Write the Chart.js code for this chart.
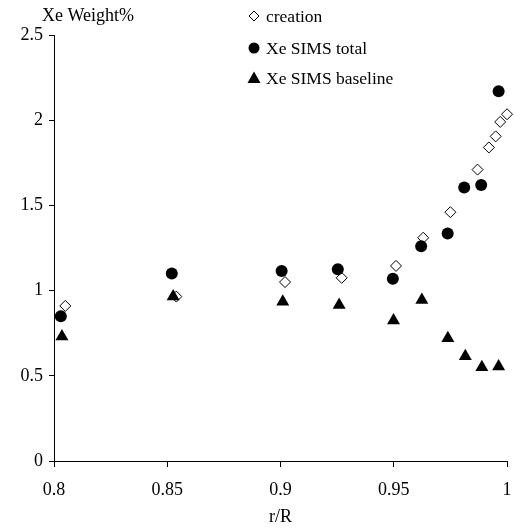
<!DOCTYPE html>
<html>
<head>
<meta charset="utf-8">
<script src="https://cdn.jsdelivr.net/npm/chart.js@4/dist/chart.umd.min.js"></script>
<style>
html,body{margin:0;padding:0;background:#fff;}
#wrap{position:relative;width:515px;height:528px;}
</style>
</head>
<body>
<div id="wrap"><canvas id="c" width="515" height="528"></canvas></div>
<script>
// ---- data ----
const seriesNames = ["creation", "Xe SIMS total", "Xe SIMS baseline"];
const creationX = [0.805, 0.854, 0.902, 0.927, 0.951, 0.963, 0.975, 0.987, 0.992, 0.995, 0.997, 1.000];
const creationY = [0.91, 0.965, 1.05, 1.075, 1.145, 1.31, 1.46, 1.71, 1.84, 1.905, 1.99, 2.035];
const totalX = [0.803, 0.852, 0.9005, 0.9253, 0.9496, 0.9621, 0.9738, 0.9811, 0.9886, 0.9963];
const totalY = [0.85, 1.10, 1.115, 1.125, 1.07, 1.26, 1.335, 1.605, 1.62, 2.17];
const baseX = [0.8035, 0.8526, 0.901, 0.9259, 0.9499, 0.9624, 0.9739, 0.9816, 0.9889, 0.9963];
const baseY = [0.73, 0.965, 0.935, 0.915, 0.825, 0.945, 0.72, 0.615, 0.55, 0.555];
const xTicks = [0.8, 0.85, 0.9, 0.95, 1];
const yTicks = [0, 0.5, 1, 1.5, 2, 2.5];
const xTitle = "r/R";
const yTitle = "Xe Weight%";

const pts = (xs, ys) => xs.map((x, i) => ({x: x, y: ys[i]}));
const FONT = '"Liberation Serif", "Times New Roman", serif';

const legendPlugin = {
  id: 'customLegend',
  afterDraw(chart) {
    const ctx = chart.ctx;
    ctx.save();
    ctx.fillStyle = '#000';
    ctx.textBaseline = 'middle';
    ctx.textAlign = 'left';
    ctx.font = '18px ' + FONT;
    ctx.fillText(yTitle, 42, 16);
    ctx.font = '17.5px ' + FONT;
    const mx = 254, tx = 266;
    const ys = [16, 48, 78];
    ctx.lineWidth = 1;
    ctx.strokeStyle = '#000';
    ctx.fillStyle = '#fff';
    ctx.beginPath();
    ctx.moveTo(mx, ys[0] - 5); ctx.lineTo(mx + 5, ys[0]); ctx.lineTo(mx, ys[0] + 5); ctx.lineTo(mx - 5, ys[0]); ctx.closePath();
    ctx.fill(); ctx.stroke();
    ctx.fillStyle = '#000';
    ctx.beginPath(); ctx.arc(mx, ys[1], 5.5, 0, Math.PI * 2); ctx.fill();
    ctx.beginPath();
    ctx.moveTo(mx, ys[2] - 6.5); ctx.lineTo(mx + 6.5, ys[2] + 5); ctx.lineTo(mx - 6.5, ys[2] + 5); ctx.closePath(); ctx.fill();
    seriesNames.forEach((n, i) => ctx.fillText(n, tx, ys[i] + 1));
    ctx.restore();
  }
};

new Chart(document.getElementById('c'), {
  type: 'scatter',
  data: {
    datasets: [
      {label: seriesNames[0], data: pts(creationX, creationY), pointStyle: 'rectRot', radius: 5.5,
       backgroundColor: '#fff', borderColor: '#000', borderWidth: 1, order: 3, clip: false},
      {label: seriesNames[1], data: pts(totalX, totalY), pointStyle: 'circle', radius: 6,
       backgroundColor: '#000', borderColor: '#000', borderWidth: 0, order: 2, clip: false},
      {label: seriesNames[2], data: pts(baseX, baseY), pointStyle: 'triangle', radius: 7.5,
       backgroundColor: '#000', borderColor: '#000', borderWidth: 0, order: 1, clip: false}
    ]
  },
  options: {
    responsive: false,
    animation: false,
    events: [],
    layout: {padding: {top: 35, right: 8, left: 0, bottom: 0}},
    plugins: {legend: {display: false}, tooltip: {enabled: false}, title: {display: false}},
    scales: {
      x: {
        type: 'linear', min: 0.8, max: 1,
        afterBuildTicks: s => { s.ticks = xTicks.map(v => ({value: v})); },
        afterFit: s => { s.height = 67; s.paddingLeft = 0; s.paddingRight = 0; },
        grid: {display: true, drawOnChartArea: false, drawTicks: true, tickLength: 6, color: '#000', tickColor: '#000'},
        border: {display: true, color: '#000', width: 1},
        ticks: {color: '#000', font: {family: FONT, size: 18}, padding: 12, maxRotation: 0, autoSkip: false,
                callback: v => String(v)},
        title: {display: true, text: xTitle, color: '#000', font: {family: FONT, size: 18}, padding: {top: 0, bottom: 0}}
      },
      y: {
        type: 'linear', min: 0, max: 2.5,
        afterBuildTicks: s => { s.ticks = yTicks.map(v => ({value: v})); },
        afterFit: s => { s.width = 54; s.paddingTop = 0; s.paddingBottom = 0; },
        grid: {display: true, drawOnChartArea: false, drawTicks: true, tickLength: 5, color: '#000', tickColor: '#000'},
        border: {display: true, color: '#000', width: 1},
        ticks: {color: '#000', font: {family: FONT, size: 18}, padding: 6, autoSkip: false,
                callback: v => String(v)}
      }
    }
  },
  plugins: [legendPlugin]
});
</script>
</body>
</html>
